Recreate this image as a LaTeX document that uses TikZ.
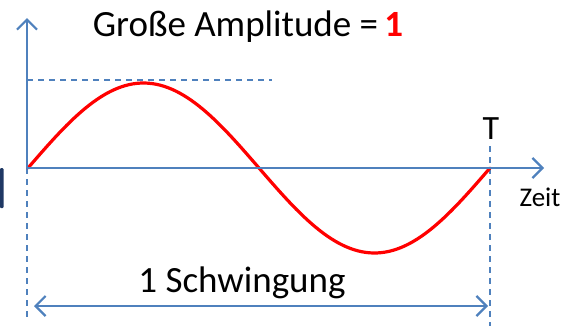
\documentclass[tikz,border=0pt]{standalone}
\usepackage{fontspec}
\setmainfont{Carlito}
\usetikzlibrary{arrows.meta}
\definecolor{axblue}{HTML}{4F81BD}
\definecolor{barblue}{HTML}{1F3864}
\tikzset{
  axis/.style={draw=axblue, line width=2.2pt, -{Straight Barb[length=10pt,width=20pt,line width=2.2pt]}},
  guide/.style={draw=axblue, line width=1.4pt, dash pattern=on 6pt off 5pt},
  span/.style={draw=axblue, line width=2.2pt, {Straight Barb[length=10pt,width=20pt,line width=2.2pt]}-{Straight Barb[length=10pt,width=20pt,line width=2.2pt]}},
  wave/.style={draw=red, line width=3.2pt},
  lbl/.style={inner sep=0pt, font=\fontsize{37}{40}\selectfont},
}
\begin{document}
\begin{tikzpicture}[x=1pt,y=-1pt]
\useasboundingbox (0,0) rectangle (567,327);
\coordinate (O) at (27,168);
\coordinate (Ytop) at (27,18);
\coordinate (Xend) at (544,168);
\coordinate (Abeg) at (27,80);
\coordinate (Aend) at (272,80);
\coordinate (Lbot) at (27,318);
\coordinate (Ttop) at (490,146);
\coordinate (Tbot) at (490,326);
\coordinate (Sl) at (34,306);
\coordinate (Sr) at (488,306);
% dashed guides
\draw[guide] (Abeg) -- (Aend);
\draw[guide] (O) -- (Lbot);
\draw[guide] (Ttop) -- (Tbot);
% wave
\draw[wave, line cap=round] plot[domain=0:360, samples=120] ({28+1.28333*\x}, {168-85*sin(\x)});
% axes
\draw[axis] (O) -- (Ytop);
\draw[axis] (O) -- (Xend);
% span arrow
\draw[span] (Sl) -- (Sr);
% cut-off bar at left
\fill[barblue, rounded corners=1pt] (0,168) rectangle (3.5,208);
% labels
\node[lbl, anchor=base] (title) at (248,36) {Große Amplitude =\,\textcolor{red}{\textbf{1}}};
\node[inner sep=0pt, font=\fontsize{34}{38}\selectfont, anchor=base] (T) at (491,139) {T};
\node[inner sep=0pt, font=\fontsize{27}{30}\selectfont, anchor=base] (zeit) at (540,206) {Zeit};
\node[lbl, anchor=base] (schw) at (242,292) {1 Schwingung};
\end{tikzpicture}
\end{document}
